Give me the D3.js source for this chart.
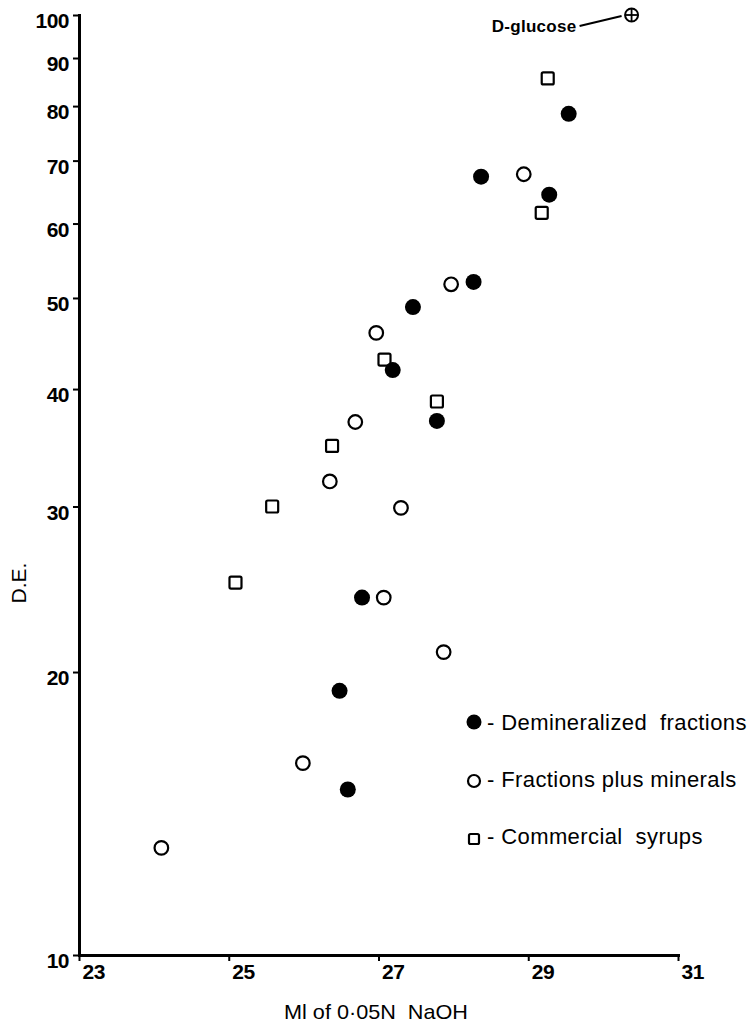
<!DOCTYPE html>
<html>
<head>
<meta charset="utf-8">
<script src="https://cdn.jsdelivr.net/npm/d3@7"></script>
<style>
  html, body { margin: 0; padding: 0; background: #fff; }
  svg { display: block; }
  .tick-label { font-family: "Liberation Sans", Arial, sans-serif; font-weight: bold; font-size: 21px; fill: #000; letter-spacing: -0.5px; }
  .title { font-family: "Liberation Sans", Arial, sans-serif; font-size: 21px; fill: #000; white-space: pre; }
  .legend-text { font-family: "Liberation Sans", Arial, sans-serif; font-size: 22px; fill: #000; white-space: pre; letter-spacing: 0.4px; }
  .note { font-family: "Liberation Sans", Arial, sans-serif; font-weight: bold; font-size: 17px; fill: #000; letter-spacing: 0.3px; }
</style>
</head>
<body>
<svg id="chart" width="749" height="1032"></svg>
<script>
// Demineralized fractions (filled circles)
const deminX = [29.54, 28.37, 29.28, 28.27, 27.46, 27.19, 27.78, 26.78, 26.48, 26.59];
const deminY = [78.5, 67.3, 64.4, 52.0, 48.9, 41.9, 37.0, 24.0, 19.1, 15.0];

// Fractions plus minerals (open circles)
const mineralX = [28.94, 27.97, 26.97, 26.69, 26.35, 27.30, 27.07, 27.87, 25.99, 24.10];
const mineralY = [67.7, 51.7, 45.9, 36.9, 31.9, 29.9, 24.0, 21.0, 16.0, 13.0];

// Commercial syrups (open squares)
const syrupX = [29.26, 29.18, 27.08, 27.78, 26.38, 25.58, 25.09];
const syrupY = [85.6, 61.6, 43.0, 38.8, 34.8, 30.0, 24.9];

// Reference point: D-glucose
const glucoseX = 30.38;
const glucoseY = 100;
const glucoseLabel = "D-glucose";

// Axes
const xTicks = [23, 25, 27, 29, 31];
const yTicks = [10, 20, 30, 40, 50, 60, 70, 80, 90, 100];
const xTitle = "Ml of 0\u00b705N  NaOH";
const yTitle = "D.E.";

const legendLabels = ["- Demineralized  fractions", "- Fractions plus minerals", "- Commercial  syrups"];

const svg = d3.select("#chart");
const x = d3.scaleLinear().domain([23, 31]).range([79, 678]);
const y = d3.scaleLog().domain([10, 100]).range([955, 15]);

// Y axis
const yAxis = svg.append("g")
  .attr("transform", `translate(${x(23)},0)`)
  .call(d3.axisLeft(y).tickValues(yTicks).tickFormat(d3.format("d")).tickSize(6).tickSizeOuter(0));
yAxis.select(".domain").attr("stroke", "#000").attr("stroke-width", 3);
yAxis.selectAll(".tick line").attr("stroke", "#000").attr("stroke-width", 2);
yAxis.selectAll(".tick text")
  .attr("class", "tick-label")
  .attr("x", -10)
  .attr("dy", "0.6em")
  .attr("font-size", null).attr("font-family", null);

// X axis
const xAxis = svg.append("g")
  .attr("transform", `translate(0,${y(10)})`)
  .call(d3.axisBottom(x).tickValues(xTicks).tickFormat(d3.format("d")).tickSize(6).tickSizeOuter(0));
xAxis.select(".domain").attr("stroke", "#000").attr("stroke-width", 3);
xAxis.selectAll(".tick line").attr("stroke", "#000").attr("stroke-width", 2);
xAxis.selectAll(".tick text")
  .attr("class", "tick-label")
  .attr("text-anchor", "start")
  .attr("x", 3)
  .attr("y", 24)
  .attr("dy", 0)
  .attr("font-size", null).attr("font-family", null);
svg.selectAll(".domain").attr("stroke-linecap", "square");

// Axis titles
svg.append("text").attr("class", "title")
  .attr("x", 376).attr("y", 1019)
  .attr("text-anchor", "middle")
  .attr("textLength", 184).attr("lengthAdjust", "spacingAndGlyphs")
  .text(xTitle);
svg.append("text").attr("class", "title")
  .attr("transform", "translate(26,583) rotate(-90)")
  .attr("text-anchor", "middle")
  .text(yTitle);

// Markers
function filledCircle(g, cx, cy, r) {
  g.append("circle").attr("cx", cx).attr("cy", cy).attr("r", r).attr("fill", "#000");
}
function openCircle(g, cx, cy, r) {
  g.append("circle").attr("cx", cx).attr("cy", cy).attr("r", r)
    .attr("fill", "#fff").attr("stroke", "#000").attr("stroke-width", 2.2);
}
function openSquare(g, cx, cy, s) {
  g.append("rect").attr("x", cx - s / 2).attr("y", cy - s / 2).attr("width", s).attr("height", s)
    .attr("rx", 1.5)
    .attr("fill", "#fff").attr("stroke", "#000").attr("stroke-width", 2.2);
}

const marks = svg.append("g");
syrupX.forEach((v, i) => openSquare(marks, x(v), y(syrupY[i]), 12));
mineralX.forEach((v, i) => openCircle(marks, x(v), y(mineralY[i]), 6.8));
deminX.forEach((v, i) => filledCircle(marks, x(v), y(deminY[i]), 8));

// D-glucose marker with annotation
const gx = x(glucoseX), gy = y(glucoseY);
marks.append("circle").attr("cx", gx).attr("cy", gy).attr("r", 6.5)
  .attr("fill", "#fff").attr("stroke", "#000").attr("stroke-width", 2);
marks.append("line").attr("x1", gx - 6.5).attr("x2", gx + 6.5).attr("y1", gy).attr("y2", gy)
  .attr("stroke", "#000").attr("stroke-width", 1.8);
marks.append("line").attr("x1", gx).attr("x2", gx).attr("y1", gy - 6.5).attr("y2", gy + 6.5)
  .attr("stroke", "#000").attr("stroke-width", 1.8);
marks.append("line").attr("x1", gx - 52).attr("y1", gy + 11).attr("x2", gx - 10).attr("y2", gy + 1)
  .attr("stroke", "#000").attr("stroke-width", 2);
svg.append("text").attr("class", "note")
  .attr("x", gx - 55).attr("y", gy + 17)
  .attr("text-anchor", "end")
  .text(glucoseLabel);

// Legend
const legend = svg.append("g").attr("transform", "translate(474,0)");
const rowY = [722, 779, 836];
filledCircle(legend, 0, rowY[0], 7.5);
openCircle(legend, 0, rowY[1] + 2, 6);
openSquare(legend, 0, rowY[2] + 3, 10);
legendLabels.forEach((t, i) => {
  legend.append("text").attr("class", "legend-text")
    .attr("x", 13).attr("y", rowY[i] + 8)
    .text(t);
});
</script>
</body>
</html>
